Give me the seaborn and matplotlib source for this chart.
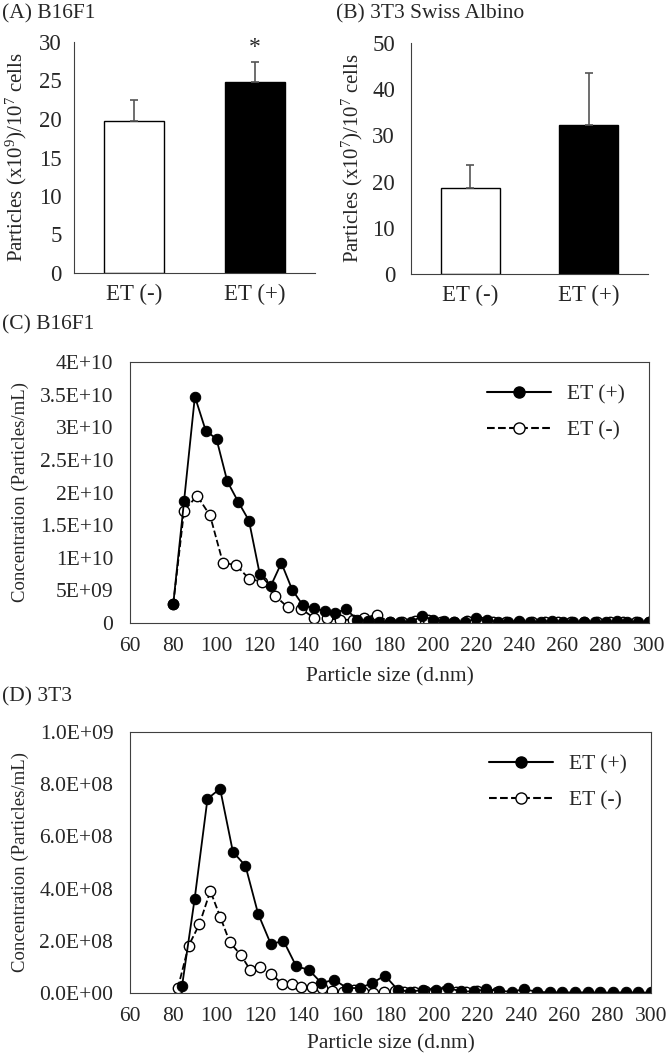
import matplotlib
matplotlib.use("Agg")
import matplotlib.pyplot as plt
import seaborn as sns
from matplotlib.lines import Line2D

# (A) / (B) bar data
groups = ["ET (-)", "ET (+)"]
b16_mean = [19.7, 24.8]
b16_err = [2.8, 2.6]
swiss_mean = [18.7, 32.2]
swiss_err = [4.9, 11.3]

# (C) B16F1 size distribution (particles/mL)
c_pos_x = [80, 85, 90, 95, 100, 105, 110, 115, 120, 125, 130, 135, 140, 145, 150,
           155, 160, 165, 170, 175, 180, 185, 190, 195, 200, 205, 210, 215, 220, 225,
           230, 235, 240, 245, 250, 255, 260, 265, 270, 275, 280, 285, 290, 295, 300]
c_pos_y = [0.29e10, 1.87e10, 3.47e10, 2.95e10, 2.82e10, 2.17e10, 1.86e10, 1.57e10,
           0.75e10, 0.56e10, 0.92e10, 0.51e10, 0.27e10, 0.23e10, 0.18e10, 0.16e10,
           0.21e10, 0.05e10, 0.03e10, 0.02e10, 0.02e10, 0.02e10, 0.01e10, 0.11e10,
           0.05e10, 0.03e10, 0.01e10, 0.01e10, 0.07e10, 0.04e10, 0.02e10, 0.02e10,
           0.03e10, 0.01e10, 0.02e10, 0.03e10, 0.02e10, 0.01e10, 0.02e10, 0.02e10,
           0.01e10, 0.03e10, 0.02e10, 0.01e10, 0.02e10]
c_neg_x = [80, 85, 91, 97, 103, 109, 115, 121, 127, 133, 139, 145, 151, 157, 163,
           168, 174, 180, 186, 192, 198, 204, 210, 216, 222, 228, 234, 240, 246, 252,
           258, 264, 270, 276, 282, 288, 294, 300]
c_neg_y = [0.29e10, 1.72e10, 1.95e10, 1.65e10, 0.92e10, 0.89e10, 0.68e10, 0.63e10,
           0.42e10, 0.24e10, 0.22e10, 0.08e10, 0.07e10, 0.05e10, 0.05e10, 0.07e10,
           0.13e10, 0.01e10, 0.02e10, 0.03e10, 0.05e10, 0.02e10, 0.01e10, 0.03e10,
           0.02e10, 0.01e10, 0.02e10, 0.02e10, 0.01e10, 0.02e10, 0.01e10, 0.02e10,
           0.01e10, 0.02e10, 0.01e10, 0.01e10, 0.02e10, 0.01e10]

# (D) 3T3 size distribution (particles/mL)
d_pos_x = [84.0, 89.8, 95.7, 101.5, 107.4, 113.2, 119.0, 124.9, 130.7, 136.6, 142.4,
           148.2, 154.1, 159.9, 165.8, 171.6, 177.4, 183.3, 189.1, 195.0, 200.8, 206.6,
           212.5, 218.3, 224.2, 230.0, 235.8, 241.7, 247.5, 253.4, 259.2, 265.0, 270.9,
           276.7, 282.6, 288.4, 294.2, 300.0]
d_pos_y = [0.28e8, 3.62e8, 7.44e8, 7.83e8, 5.41e8, 4.87e8, 3.04e8, 1.87e8, 2.00e8,
           1.02e8, 0.89e8, 0.38e8, 0.51e8, 0.19e8, 0.19e8, 0.38e8, 0.67e8, 0.13e8,
           0.04e8, 0.13e8, 0.13e8, 0.19e8, 0.06e8, 0.06e8, 0.15e8, 0.08e8, 0.05e8,
           0.15e8, 0.04e8, 0.03e8, 0.03e8, 0.02e8, 0.03e8, 0.02e8, 0.02e8, 0.03e8,
           0.02e8, 0.02e8]
d_neg_x = [82, 87, 92, 97, 101.5, 106, 111, 115.5, 120, 125, 130, 134.5, 139, 144,
           148.5, 153, 158, 163, 167.5, 172, 177, 182, 186, 191, 196, 200, 205, 210,
           215, 220, 224, 229]
d_neg_y = [0.18e8, 1.81e8, 2.64e8, 3.91e8, 2.93e8, 1.94e8, 1.46e8, 0.87e8, 0.98e8,
           0.73e8, 0.36e8, 0.36e8, 0.23e8, 0.23e8, 0.18e8, 0.06e8, 0.03e8, 0.10e8,
           0.05e8, 0.01e8, 0.03e8, 0.08e8, 0.05e8, 0.04e8, 0.09e8, 0.03e8, 0.06e8,
           0.04e8, 0.05e8, 0.09e8, 0.04e8, 0.03e8]

c_yticks = [0, 0.5e10, 1e10, 1.5e10, 2e10, 2.5e10, 3e10, 3.5e10, 4e10]
c_ylabels = ["0", "5E+09", "1E+10", "1.5E+10", "2E+10", "2.5E+10", "3E+10", "3.5E+10", "4E+10"]
d_yticks = [0, 2e8, 4e8, 6e8, 8e8, 1e9]
d_ylabels = ["0.0E+00", "2.0E+08", "4.0E+08", "6.0E+08", "8.0E+08", "1.0E+09"]

sns.set_style("white")
plt.rcParams["font.family"] = ["Liberation Serif", "DejaVu Serif"]
plt.rcParams["mathtext.fontset"] = "custom"
plt.rcParams["mathtext.rm"] = "Liberation Serif"
plt.rcParams["mathtext.default"] = "regular"

W, H = 667, 1057
fig = plt.figure(figsize=(W / 100, H / 100), dpi=100)


def box(l, t, r, b):
    return fig.add_axes([l / W, 1 - b / H, (r - l) / W, (b - t) / H])


def bar_panel(ax, means, errs, ymax, step, ylabel, ypad, lab_x):
    sns.barplot(x=groups, y=means, hue=groups, palette=["white", "black"],
                edgecolor="black", linewidth=1, width=0.5, legend=False, ax=ax)
    ax.errorbar([0, 1], means, yerr=[[0, 0], errs], fmt="none", ecolor="#555555",
                elinewidth=1.2, capsize=3, capthick=1.2, zorder=1)
    ax.set_xlim(-0.5, 1.5)
    ax.set_ylim(0, ymax)
    ax.set_yticks(range(0, ymax + 1, step))
    sns.despine(ax=ax)
    for s in ["left", "bottom"]:
        ax.spines[s].set_color("#404040")
    ax.tick_params(axis="y", direction="in", length=5, color="#404040",
                   labelsize=16.5, pad=ypad)
    ax.tick_params(axis="x", length=0, labelsize=16.5, pad=8)
    ax.set_xlabel("")
    ax.set_ylabel(ylabel, fontsize=15)
    ax.yaxis.set_label_coords(lab_x, 0.5)


axA = box(74, 42, 315, 273)
bar_panel(axA, b16_mean, b16_err, 30, 5, "Particles (x10$^{9}$)/10$^{7}$ cells", 9, -0.185)
axA.text(1, 27.9, "*", ha="center", va="bottom", fontsize=17)

axB = box(411, 43, 648, 274)
bar_panel(axB, swiss_mean, swiss_err, 50, 10, "Particles (x10$^{7}$)/10$^{7}$ cells", 11.5, -0.195)


def size_panel(ax, px, py, nx, ny, yticks, ylabels, xlabpad):
    sns.lineplot(x=nx, y=ny, color="black", linestyle="--", linewidth=1.3, marker="o",
                 markersize=7.5, markerfacecolor="white", markeredgecolor="black",
                 markeredgewidth=1, ax=ax)
    sns.lineplot(x=px, y=py, color="black", linestyle="-", linewidth=1.3, marker="o",
                 markersize=7.5, markerfacecolor="black", markeredgecolor="black", ax=ax)
    ax.set_xlim(60, 300)
    ax.set_ylim(0, yticks[-1])
    ax.set_xticks(range(60, 301, 20))
    ax.set_xticks(range(70, 300, 20), minor=True)
    ax.set_yticks(yticks, ylabels)
    for s in ax.spines.values():
        s.set_color("#404040")
    ax.tick_params(which="both", direction="in", length=5, color="#404040")
    ax.tick_params(axis="x", labelsize=15.5, pad=10)
    ax.tick_params(axis="y", labelsize=15.5, pad=12)
    ax.set_xlabel("Particle size (d.nm)", fontsize=15.5, labelpad=xlabpad)
    ax.set_ylabel("Concentration (Particles/mL)", fontsize=13.5)
    ax.yaxis.set_label_coords(-0.194, 0.5)
    handles = [
        Line2D([], [], color="black", lw=1.5, marker="o", ms=8, mfc="black"),
        Line2D([], [], color="black", lw=1.5, ls="--", marker="o", ms=8, mfc="white"),
    ]
    ax.legend(handles, ["ET (+)", "ET (-)"], loc="upper right", frameon=False,
              fontsize=15.5, handlelength=3.0, handletextpad=0.7, labelspacing=0.75,
              bbox_to_anchor=(0.99, 0.99))


axC = box(130, 362, 649, 623)
size_panel(axC, c_pos_x, c_pos_y, c_neg_x, c_neg_y, c_yticks, c_ylabels, 8)

axD = box(130, 732, 651, 993)
size_panel(axD, d_pos_x, d_pos_y, d_neg_x, d_neg_y, d_yticks, d_ylabels, 6)

fig.text(2 / W, 1 - 14 / H, "(A) B16F1", fontsize=15.5, va="center")
fig.text(336 / W, 1 - 14 / H, "(B) 3T3 Swiss Albino", fontsize=15.5, va="center")
fig.text(2 / W, 1 - 325 / H, "(C) B16F1", fontsize=15.5, va="center")
fig.text(2 / W, 1 - 697 / H, "(D) 3T3", fontsize=15.5, va="center")

fig.savefig("out.png", dpi=100)
